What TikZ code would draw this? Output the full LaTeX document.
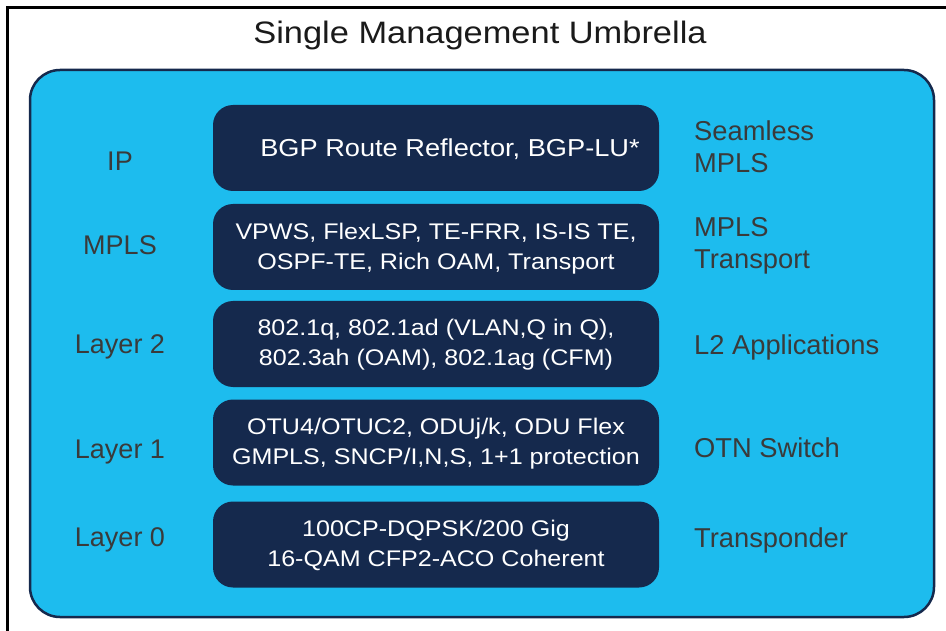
\documentclass[tikz,border=0pt]{standalone}
\usepackage{fontspec}
\setmainfont{Liberation Sans}
\newfontfamily\widefont[FakeStretch=1.11]{Liberation Sans}
\definecolor{skyblue}{HTML}{1DBCEE}
\definecolor{navy}{HTML}{15294D}
\definecolor{labelgray}{HTML}{3A3A3A}
\definecolor{titleblack}{HTML}{1A1A1A}
\tikzset{
  layerbox/.style={draw=none, fill=navy, rounded corners=20pt, minimum width=446pt, minimum height=86pt, inner sep=0pt},
  boxtext/.style={text=white, align=center, font=\widefont\fontsize{22.6}{30}\selectfont, inner sep=0pt},
  leftlabel/.style={text=labelgray, font=\fontsize{27}{32}\selectfont, inner sep=0pt},
  rightlabel/.style={text=labelgray, align=left, anchor=west, font=\fontsize{27.3}{32}\selectfont, inner sep=0pt},
}
\begin{document}
\begin{tikzpicture}[x=1pt,y=-1pt]
\useasboundingbox (0,0) rectangle (946,631);
\clip (0,0) rectangle (946,631);
\fill[white] (0,0) rectangle (946,631);
% outer frame (cut off at right and bottom)
\draw[line width=2.5pt, black] (7.5,7.5) rectangle (960,650);
% title
\node[text=titleblack, font=\widefont\fontsize{31}{36}\selectfont, inner sep=0pt] (title) at (480,35) {Single Management Umbrella};
% big blue area
\draw[fill=skyblue, draw=navy, line width=2.5pt, rounded corners=30pt] (30,70) rectangle (934,617);
% layer boxes
\node[layerbox] (b1) at (436,148) {};
\node[layerbox] (b2) at (436,247) {};
\node[layerbox] (b3) at (436,344) {};
\node[layerbox] (b4) at (436,442.5) {};
\node[layerbox] (b5) at (436,544.5) {};
% box texts
\node[boxtext, font=\widefont\fontsize{24.5}{30}\selectfont] (t1) at ([xshift=14pt,yshift=-1pt]b1.center) {BGP Route Reflector, BGP-LU*};
\node[boxtext] (t2) at ([yshift=-2pt]b2.center) {VPWS, FlexLSP, TE-FRR, IS-IS TE,\\OSPF-TE, Rich OAM, Transport};
\node[boxtext] (t3) at ([yshift=-1pt]b3.center) {802.1q, 802.1ad (VLAN,Q in Q),\\802.3ah (OAM), 802.1ag (CFM)};
\node[boxtext] (t4) at ([yshift=-1pt]b4.center) {OTU4/OTUC2, ODUj/k, ODU Flex\\GMPLS, SNCP/I,N,S, 1+1 protection};
\node[boxtext] (t5) at ([yshift=-1pt]b5.center) {100CP-DQPSK/200 Gig\\16-QAM CFP2-ACO Coherent};
% left labels
\node[leftlabel] (l1) at (120,161) {IP};
\node[leftlabel] (l2) at (120,245) {MPLS};
\node[leftlabel] (l3) at (120,347) {Layer 2};
\node[leftlabel] (l4) at (120,452) {Layer 1};
\node[leftlabel] (l5) at (120,540) {Layer 0};
% right labels
\node[rightlabel] (r1) at (694,147) {Seamless\\MPLS};
\node[rightlabel] (r2) at (694,246) {MPLS\\Transport};
\node[rightlabel] (r3) at (694,347) {L2 Applications};
\node[rightlabel] (r4) at (694,448) {OTN Switch};
\node[rightlabel] (r5) at (694,540) {Transponder};
\end{tikzpicture}
\end{document}
